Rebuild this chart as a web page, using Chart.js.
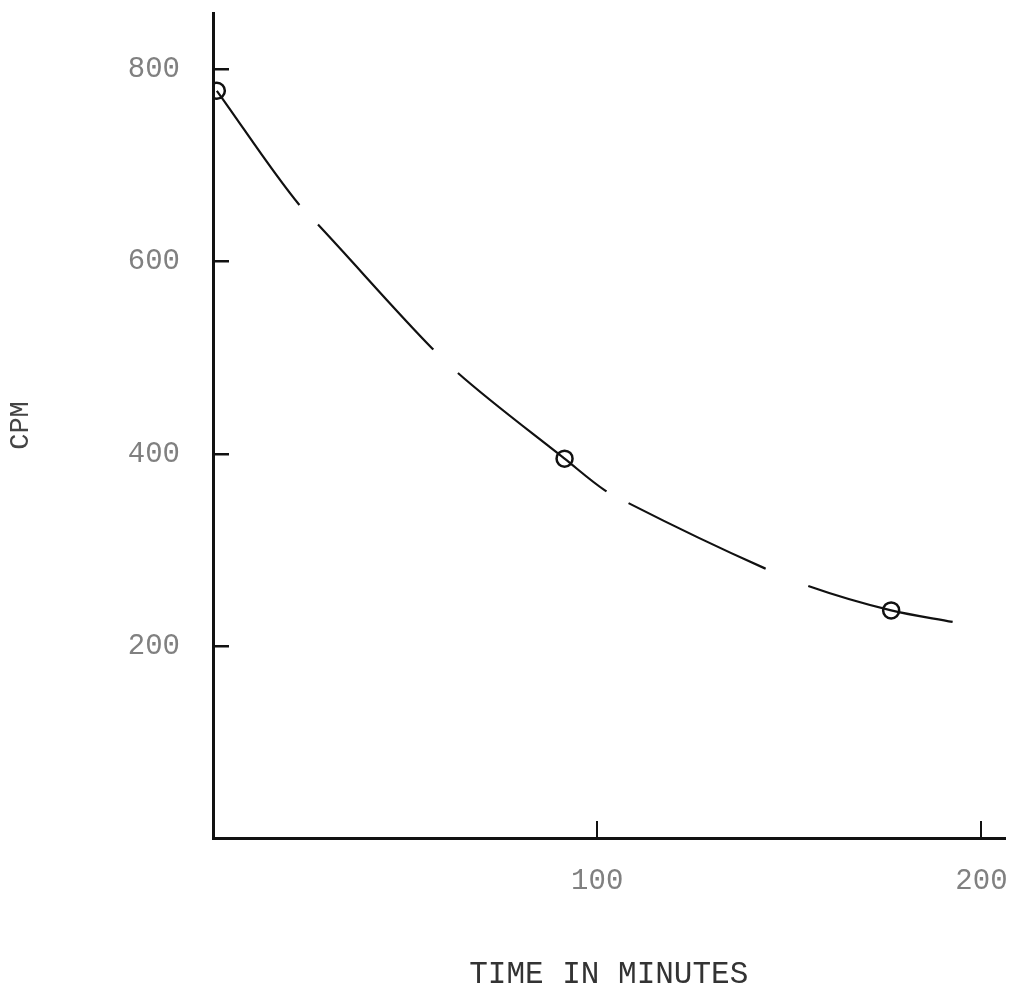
<!doctype html>
<html>
<head>
<title>CPM vs time</title>
<script src="https://cdn.jsdelivr.net/npm/chart.js@4.4.9/dist/chart.umd.min.js"></script>
<script>

// hand drawn decay curve
const curveMinutes = [1, 22.5, 27.5, 57, 63.5, 91.5, 102, 108, 143.5, 154.5, 176.5, 192.5];
const curveCpm = [778, 659, 638, 510, 485, 395, 362, 349, 281, 263, 237, 225];

// measured points (circles)
const pointMinutes = [1, 91.5, 176.5];
const pointCpm = [778, 395, 237];

const xTicks = [100, 200];
const yTicks = [200, 400, 600, 800];
const xTitle = 'TIME IN MINUTES';
const yTitle = 'CPM';

function go() {
  const ink = '#111';
  const typewriter = "'Liberation Mono', monospace";

  new Chart(document.getElementById('decay'), {
    type: 'line',
    data: {
      datasets: [
        {
          data: curveMinutes.map((x, i) => ({ x, y: curveCpm[i] })),
          borderColor: ink,
          borderWidth: 2.2,
          pointRadius: 0,
          cubicInterpolationMode: 'monotone',
          borderDash: [141, 27, 170, 34, 190, 25, 152, 46, 400, 10],
        },
        {
          data: pointMinutes.map((x, i) => ({ x, y: pointCpm[i] })),
          showLine: false,
          pointRadius: 8,
          pointBorderWidth: 2.5,
          pointBorderColor: ink,
          pointBackgroundColor: 'rgba(0,0,0,0)',
        },
      ],
    },
    options: {
      responsive: false,
      animation: false,
      layout: { padding: { top: 13, right: 8, left: 0, bottom: 0 } },
      plugins: { legend: { display: false }, tooltip: { enabled: false } },
      scales: {
        x: {
          type: 'linear',
          min: 0,
          max: 206,
          afterBuildTicks: s => { s.ticks = xTicks.map(v => ({ value: v })); },
          afterFit: s => { s.height = 155; s.paddingLeft = 0; s.paddingRight = 0; },
          border: { color: ink, width: 3 },
          grid: { drawOnChartArea: false, tickLength: -17, color: ink, lineWidth: 2 },
          ticks: { autoSkip: false, maxRotation: 0, padding: 43, color: '#808080', font: { family: typewriter, size: 29 } },
          title: { display: true, text: xTitle, color: '#333', padding: { top: 0, bottom: 0 }, font: { family: typewriter, size: 31 } },
        },
        y: {
          min: 0,
          max: 859,
          afterBuildTicks: s => { s.ticks = yTicks.map(v => ({ value: v })); },
          afterFit: s => { s.width = 213; s.paddingTop = 0; s.paddingBottom = 0; },
          border: { color: ink, width: 3 },
          grid: { drawOnChartArea: false, tickLength: -16, color: ink, lineWidth: 2.5 },
          ticks: { autoSkip: false, padding: 49, color: '#808080', font: { family: typewriter, size: 29 } },
          title: { display: true, text: yTitle, color: '#444', padding: { top: 5, bottom: 0 }, font: { family: typewriter, size: 27 } },
        },
      },
    },
  });
}

window.onload = go;

</script>
</head>

<body style="margin: 0; background: #fff">
<canvas id="decay" width="1015" height="993"></canvas>
</body>

</html>
